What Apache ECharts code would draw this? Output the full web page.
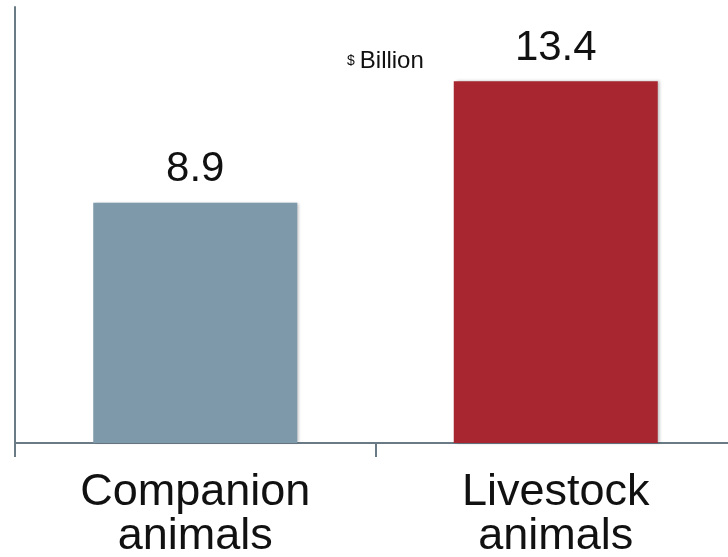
<!DOCTYPE html>
<html>
<head>
<meta charset="utf-8">
<script src="https://cdn.jsdelivr.net/npm/echarts@6/dist/echarts.min.js"></script>
<style>html,body{margin:0;padding:0;background:#fff;}#c{width:728px;height:557px;}</style>
</head>
<body>
<div id="c"></div>
<script>
const categories = ['Companion\nanimals', 'Livestock\nanimals'];
const values = [8.9, 13.4];
const barColors = ['#7d99aa', '#a7262f'];
const unitLabel = 'Billion';

const chart = echarts.init(document.getElementById('c'));
chart.setOption({
  animation: false,
  backgroundColor: '#ffffff',
  title: {
    text: '{s|$} {b|' + unitLabel + '}',
    left: 342, top: 44,
    textStyle: { fontWeight: 'normal', rich: { s: { fontSize: 14, color: '#111', fontWeight: 'normal', fontFamily: 'Liberation Sans' }, b: { fontSize: 24, color: '#111', fontWeight: 'normal', fontFamily: 'Liberation Sans' } } }
  },
  grid: { left: 15, top: 7, width: 721, height: 436, containLabel: false, outerBoundsMode: 'none' },
  xAxis: {
    type: 'category',
    data: categories,
    axisLine: { lineStyle: { color: '#6b7b86', width: 2 } },
    axisTick: { show: true, alignWithLabel: false, interval: 0, length: 14, lineStyle: { color: '#6b7b86', width: 2 } },
    axisLabel: { fontSize: 45, color: '#111', fontFamily: 'Liberation Sans', lineHeight: 44, margin: 28 }
  },
  yAxis: {
    type: 'value', min: 0, max: 16.15,
    axisLine: { show: true, lineStyle: { color: '#6b7b86', width: 2 } },
    axisTick: { show: false },
    axisLabel: { show: false },
    splitLine: { show: false }
  },
  series: [{
    type: 'bar',
    barWidth: 204,
    data: values.map((v, i) => ({ value: v, itemStyle: { color: barColors[i] } })),
    itemStyle: { shadowColor: 'rgba(0,0,0,0.25)', shadowBlur: 3, shadowOffsetX: 2, shadowOffsetY: 0 },
    label: { show: true, position: 'top', distance: 12, fontSize: 42, color: '#111', fontFamily: 'Liberation Sans' }
  }]
});
</script>
</body>
</html>
